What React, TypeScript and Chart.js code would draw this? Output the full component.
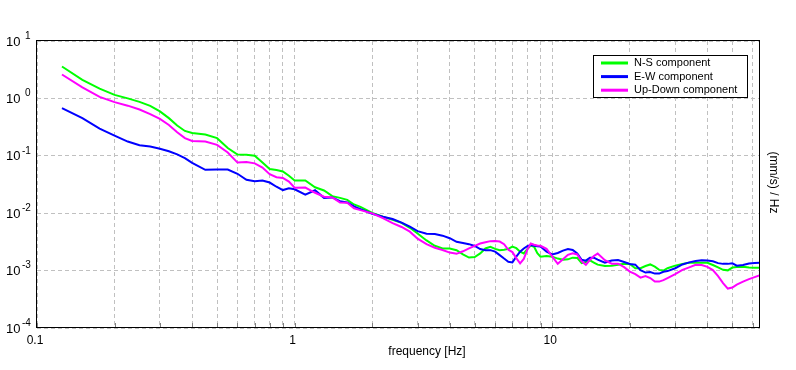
import React, { useEffect, useRef } from "react";
import { Chart, registerables } from "chart.js";

Chart.register(...registerables);

const frequencies = [0.125, 0.15, 0.175, 0.2, 0.225, 0.25, 0.275, 0.3, 0.325, 0.35, 0.375, 0.4, 0.45, 0.5, 0.55, 0.6, 0.65, 0.7, 0.75, 0.8, 0.85, 0.9, 0.95, 1.0, 1.1, 1.2, 1.3, 1.4, 1.5, 1.6, 1.7, 1.8, 2.0, 2.2, 2.4, 2.6, 2.8, 3.0, 3.25, 3.5, 3.75, 4.0, 4.25, 4.5, 4.75, 5.0, 5.25, 5.5, 5.75, 6.0, 6.25, 6.5, 6.75, 7.0, 7.25, 7.5, 7.75, 8.0, 8.25, 8.5, 8.75, 9.0, 9.5, 10, 10.5, 11, 11.5, 12, 12.5, 13, 13.5, 14, 14.5, 15, 16, 17, 18, 19, 20, 21, 22, 23, 24, 25, 26, 27, 28, 30, 32, 34, 36, 38, 40, 42, 44, 46, 48, 50, 52, 55, 58, 61, 64];

const nsComponent = [3.6, 2.11, 1.48, 1.15, 1.0, 0.87, 0.74, 0.594, 0.453, 0.336, 0.271, 0.249, 0.234, 0.203, 0.137, 0.105, 0.104, 0.1, 0.0762, 0.0587, 0.0564, 0.0533, 0.0449, 0.0371, 0.0372, 0.0283, 0.0249, 0.0198, 0.0185, 0.0171, 0.0142, 0.0129, 0.0101, 0.00869, 0.00764, 0.00678, 0.00557, 0.00442, 0.00335, 0.00271, 0.00243, 0.00243, 0.00227, 0.00192, 0.00169, 0.00172, 0.00199, 0.00243, 0.00259, 0.00239, 0.00227, 0.0023, 0.00239, 0.00261, 0.00246, 0.00213, 0.00199, 0.00237, 0.00272, 0.00261, 0.00201, 0.00175, 0.00179, 0.00175, 0.00162, 0.00155, 0.00157, 0.00168, 0.00166, 0.00135, 0.00141, 0.00151, 0.00138, 0.00127, 0.0012, 0.00122, 0.00126, 0.00131, 0.0013, 0.0011, 0.0011, 0.0012, 0.00128, 0.00117, 0.00103, 0.001, 0.0011, 0.00122, 0.00131, 0.00137, 0.00137, 0.00137, 0.00137, 0.00125, 0.00114, 0.00103, 0.00101, 0.00113, 0.00116, 0.00117, 0.00113, 0.00112, 0.00112];

const ewComponent = [0.676, 0.453, 0.297, 0.225, 0.177, 0.153, 0.145, 0.133, 0.12, 0.106, 0.0912, 0.0755, 0.0569, 0.0575, 0.0575, 0.0486, 0.0383, 0.036, 0.037, 0.0342, 0.0289, 0.0253, 0.0272, 0.0261, 0.0211, 0.0251, 0.0185, 0.0188, 0.0162, 0.0154, 0.0131, 0.0118, 0.00977, 0.00869, 0.00792, 0.00684, 0.00582, 0.00486, 0.0044, 0.00433, 0.00406, 0.00367, 0.00318, 0.00303, 0.00289, 0.00269, 0.00237, 0.00227, 0.00227, 0.00214, 0.00186, 0.00162, 0.00143, 0.00139, 0.00175, 0.00214, 0.00243, 0.00267, 0.00278, 0.00272, 0.00265, 0.00262, 0.00214, 0.00191, 0.00203, 0.00223, 0.00237, 0.00228, 0.00198, 0.00154, 0.00149, 0.00168, 0.00168, 0.00155, 0.00138, 0.0015, 0.00153, 0.00141, 0.0013, 0.00127, 0.00102, 0.000923, 0.000942, 0.000887, 0.000887, 0.000953, 0.00098, 0.0011, 0.00128, 0.00139, 0.00147, 0.00152, 0.0015, 0.00145, 0.00135, 0.00131, 0.00131, 0.00134, 0.00122, 0.00125, 0.00133, 0.00135, 0.00137];

const udComponent = [2.61, 1.56, 1.06, 0.862, 0.747, 0.641, 0.533, 0.44, 0.345, 0.258, 0.203, 0.181, 0.177, 0.155, 0.114, 0.0762, 0.0777, 0.0738, 0.0623, 0.0477, 0.0423, 0.0411, 0.0356, 0.0278, 0.028, 0.0227, 0.0194, 0.0188, 0.0154, 0.0152, 0.0122, 0.0113, 0.00993, 0.00819, 0.00673, 0.00575, 0.00477, 0.0036, 0.00289, 0.0025, 0.00229, 0.00206, 0.00196, 0.00217, 0.00244, 0.0027, 0.00297, 0.00313, 0.00326, 0.00329, 0.00321, 0.00289, 0.00231, 0.0021, 0.00165, 0.00134, 0.0016, 0.00232, 0.00297, 0.00283, 0.00274, 0.0027, 0.0024, 0.00175, 0.00131, 0.00158, 0.00188, 0.00201, 0.00191, 0.00145, 0.00126, 0.00154, 0.0018, 0.00198, 0.00152, 0.00132, 0.00132, 0.00115, 0.000961, 0.000869, 0.000755, 0.000802, 0.000741, 0.000644, 0.000644, 0.000684, 0.000741, 0.000869, 0.00103, 0.00114, 0.00126, 0.00125, 0.00116, 0.00102, 0.000802, 0.000606, 0.000486, 0.000506, 0.000571, 0.000644, 0.000711, 0.000771, 0.000835];

const seriesNames = ["N-S component", "E-W component", "Up-Down component"];
const seriesColors = ["#00ff00", "#0000ff", "#ff00ff"];
const xTickValues = [0.1, 1, 10];
const xTickLabels = ["0.1", "1", "10"];
const xGridValues = [0.1, 0.2, 0.3, 0.4, 0.5, 0.6, 0.7, 0.8, 0.9, 1, 2, 3, 4, 5, 6, 7, 8, 9, 10, 20, 30, 40, 50, 60];
const yDecades = [1, 0, -1, -2, -3, -4];
const xTitle = "frequency [Hz]";
const yTitle = "(mm/s) / Hz";

const FONT = "'Liberation Sans', Arial, sans-serif";

const decorPlugin = {
  id: "decor",
  afterDraw(chart: any) {
    const { ctx, chartArea: ca, scales } = chart;
    const xs = scales.x;
    const ys = scales.y;
    ctx.save();
    // minor tick marks on bottom axis
    ctx.strokeStyle = "#808080";
    ctx.lineWidth = 1;
    for (const v of xGridValues) {
      const px = Math.round(xs.getPixelForValue(v)) + 0.5;
      ctx.beginPath();
      ctx.moveTo(px, ca.bottom - 1);
      ctx.lineTo(px, ca.bottom - 5);
      ctx.stroke();
    }
    // frame
    ctx.strokeStyle = "#000";
    ctx.lineWidth = 1;
    ctx.strokeRect(Math.round(ca.left) - 0.5, Math.round(ca.top) - 0.5, Math.round(ca.right - ca.left), Math.round(ca.bottom - ca.top));

    // x tick labels
    ctx.fillStyle = "#000";
    ctx.font = `12px ${FONT}`;
    ctx.textAlign = "center";
    ctx.textBaseline = "middle";
    xTickValues.forEach((v, i) => {
      const px = xs.getPixelForValue(v);
      ctx.fillText(xTickLabels[i], px - 2, ca.bottom + 13);
    });
    // y tick labels (10 with superscript exponent)
    yDecades.forEach((d) => {
      const py = ys.getPixelForValue(Math.pow(10, d));
      ctx.font = `13px ${FONT}`;
      ctx.textAlign = "left";
      ctx.textBaseline = "middle";
      ctx.fillText("10", 6, py + 1);
      ctx.font = `10px ${FONT}`;
      const exp = String(d);
      ctx.fillText(exp, d < 0 ? 22 : 25, py - 5);
    });
    // x title
    ctx.font = `12px ${FONT}`;
    ctx.textAlign = "center";
    ctx.textBaseline = "middle";
    ctx.fillText(xTitle, 427, ca.bottom + 24);
    // right title rotated
    ctx.save();
    ctx.translate(ca.right + 13, (ca.top + ca.bottom) / 2 - 2);
    ctx.rotate(Math.PI / 2);
    ctx.textAlign = "center";
    ctx.textBaseline = "middle";
    ctx.fillText(yTitle, 0, 0);
    ctx.restore();

    // legend
    const lx = Math.round(ca.right) - 167;
    const ly = Math.round(ca.top) + 14;
    const lw = 154;
    const lh = 42;
    ctx.fillStyle = "#fff";
    ctx.fillRect(lx, ly, lw, lh);
    ctx.strokeStyle = "#000";
    ctx.lineWidth = 1;
    ctx.strokeRect(lx + 0.5, ly + 0.5, lw, lh);
    ctx.font = `11px ${FONT}`;
    ctx.textAlign = "left";
    ctx.textBaseline = "middle";
    seriesNames.forEach((name, i) => {
      const ry = ly + 8 + i * 13.6;
      ctx.strokeStyle = seriesColors[i];
      ctx.lineWidth = 3;
      ctx.beginPath();
      ctx.moveTo(lx + 8, ry);
      ctx.lineTo(lx + 35, ry);
      ctx.stroke();
      ctx.fillStyle = "#000";
      ctx.fillText(name, lx + 41, ry);
    });
    ctx.restore();
  },
};

export default function App() {
  const ref = useRef<HTMLCanvasElement | null>(null);
  useEffect(() => {
    document.body.style.margin = "0";
    const canvas = ref.current;
    if (!canvas) return;
    const seriesValues = [nsComponent, ewComponent, udComponent];
    const chart = new Chart(canvas, {
      type: "line",
      data: {
        datasets: seriesValues.map((vals, i) => ({
          label: seriesNames[i],
          data: frequencies.map((f, j) => ({ x: f, y: vals[j] })),
          borderColor: seriesColors[i],
          backgroundColor: seriesColors[i],
          borderWidth: 2,
          pointRadius: 0,
          tension: 0,
          fill: false,
          order: 2 - i,
        })),
      },
      options: {
        responsive: false,
        animation: false,
        devicePixelRatio: 1,
        layout: { padding: { left: 0, top: 41, right: 36, bottom: 0 } },
        plugins: { legend: { display: false }, tooltip: { enabled: false }, title: { display: false } },
        events: [],
        scales: {
          x: {
            type: "logarithmic",
            position: "bottom",
            min: 0.1,
            max: 64,
            ticks: { display: false },
            grid: { color: "#c0c0c0", lineWidth: 1, drawTicks: false },
            border: { display: false, dash: [4, 3] },
            afterBuildTicks: (scale: any) => {
              scale.ticks = xGridValues.map((v) => ({ value: v }));
            },
            afterFit: (scale: any) => {
              scale.height = 42;
            },
          },
          y: {
            type: "logarithmic",
            position: "left",
            min: 1e-4,
            max: 10,
            ticks: { display: false },
            grid: { color: "#c0c0c0", lineWidth: 1, drawTicks: false },
            border: { display: false, dash: [4, 3] },
            afterBuildTicks: (scale: any) => {
              scale.ticks = yDecades.map((d) => ({ value: Math.pow(10, d) }));
            },
            afterFit: (scale: any) => {
              scale.width = 37;
            },
          },
        },
      },
      plugins: [decorPlugin],
    });
    return () => chart.destroy();
  }, []);
  return (
    <div style={{ width: 796, height: 370 }}>
      <canvas ref={ref} width={796} height={370} style={{ display: "block" }} />
    </div>
  );
}
